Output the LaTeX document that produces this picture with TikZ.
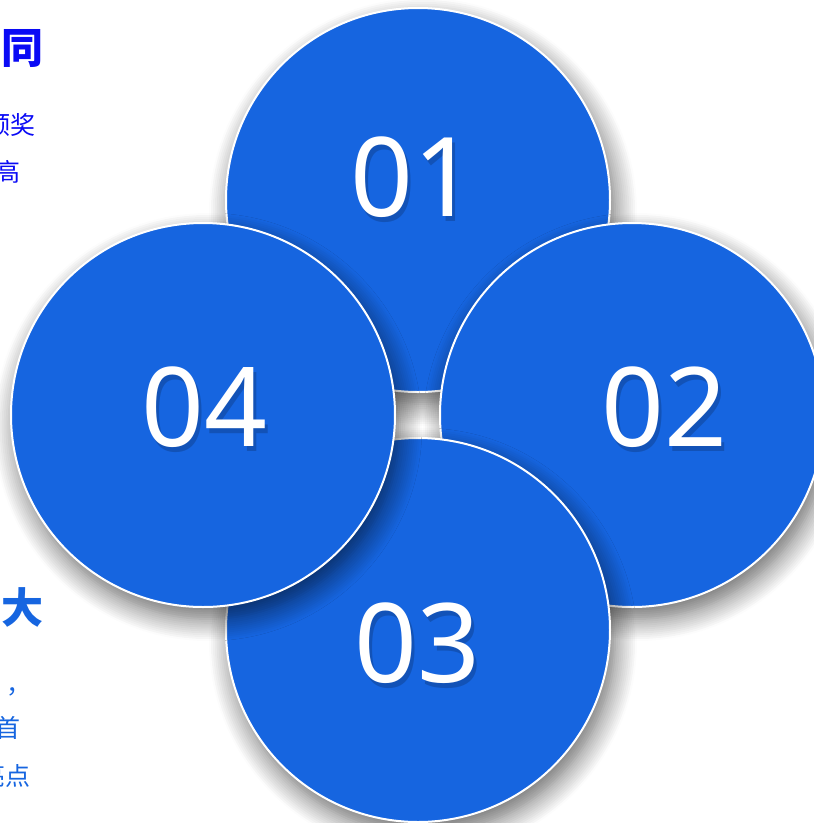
\documentclass[tikz,border=0pt]{standalone}
\usepackage{fontspec}
\setmainfont{Noto Sans}
\newfontfamily\cjk{Noto Sans CJK SC}
\usetikzlibrary{shadows.blur}
\definecolor{cblue}{RGB}{22,101,224}
\definecolor{pblue}{RGB}{10,10,245}
\begin{document}
\begin{tikzpicture}[x=1pt,y=-1pt]
\useasboundingbox (0,0) rectangle (814,823);
\clip (0,0) rectangle (814,823);
\tikzset{
  ring/.style={circle, minimum size=384pt, inner sep=0pt, fill=cblue, draw=white, line width=2pt,
    blur shadow={shadow xshift=5pt, shadow yshift=-12pt, shadow blur radius=22pt, shadow blur steps=12, shadow opacity=60}},
  digit/.style={text=white, inner sep=0pt, font=\fontsize{110}{110}\selectfont},
  dshadow/.style={text=black, opacity=0.18, inner sep=0pt, font=\fontsize{110}{110}\selectfont},
  headA/.style={text=pblue, inner sep=0pt, font=\cjk\bfseries\fontsize{42}{42}\selectfont},
  headB/.style={text=cblue, inner sep=0pt, font=\cjk\bfseries\fontsize{42}{42}\selectfont},
  bodyA/.style={text=pblue, inner sep=0pt, font=\cjk\fontsize{25}{25}\selectfont},
  bodyB/.style={text=cblue, inner sep=0pt, font=\cjk\fontsize{25}{25}\selectfont}
}
% left texts
\node[headA, anchor=east] (h1) at (44,49) {同};
\node[bodyA, anchor=east] (t1) at (36,125) {颁奖};
\node[bodyA, anchor=east] (t2) at (21,172) {高};
\node[headB, anchor=east] (h2) at (44,607) {大};
\node[bodyB, anchor=base east] (t3) at (32,693) {、，};
\node[bodyB, anchor=east] (t4) at (21,728) {首};
\node[bodyB, anchor=east] (t5) at (31,776) {亮点};
% circles
\node[ring] (c1) at (418,200) {};
\node[dshadow] (s1) at (416,182) {01};
\node[digit] (d1) at (413,177) {01};
\node[ring] (c2) at (632,415) {};
\node[dshadow] (s2) at (667,412) {02};
\node[digit] (d2) at (664,407) {02};
\node[ring] (c3) at (418,630) {};
\node[dshadow] (s3) at (420,648) {03};
\node[digit] (d3) at (417,643) {03};
\node[ring] (c4) at (203,415) {};
\node[dshadow] (s4) at (207,412) {04};
\node[digit] (d4) at (204,407) {04};
\end{tikzpicture}
\end{document}
